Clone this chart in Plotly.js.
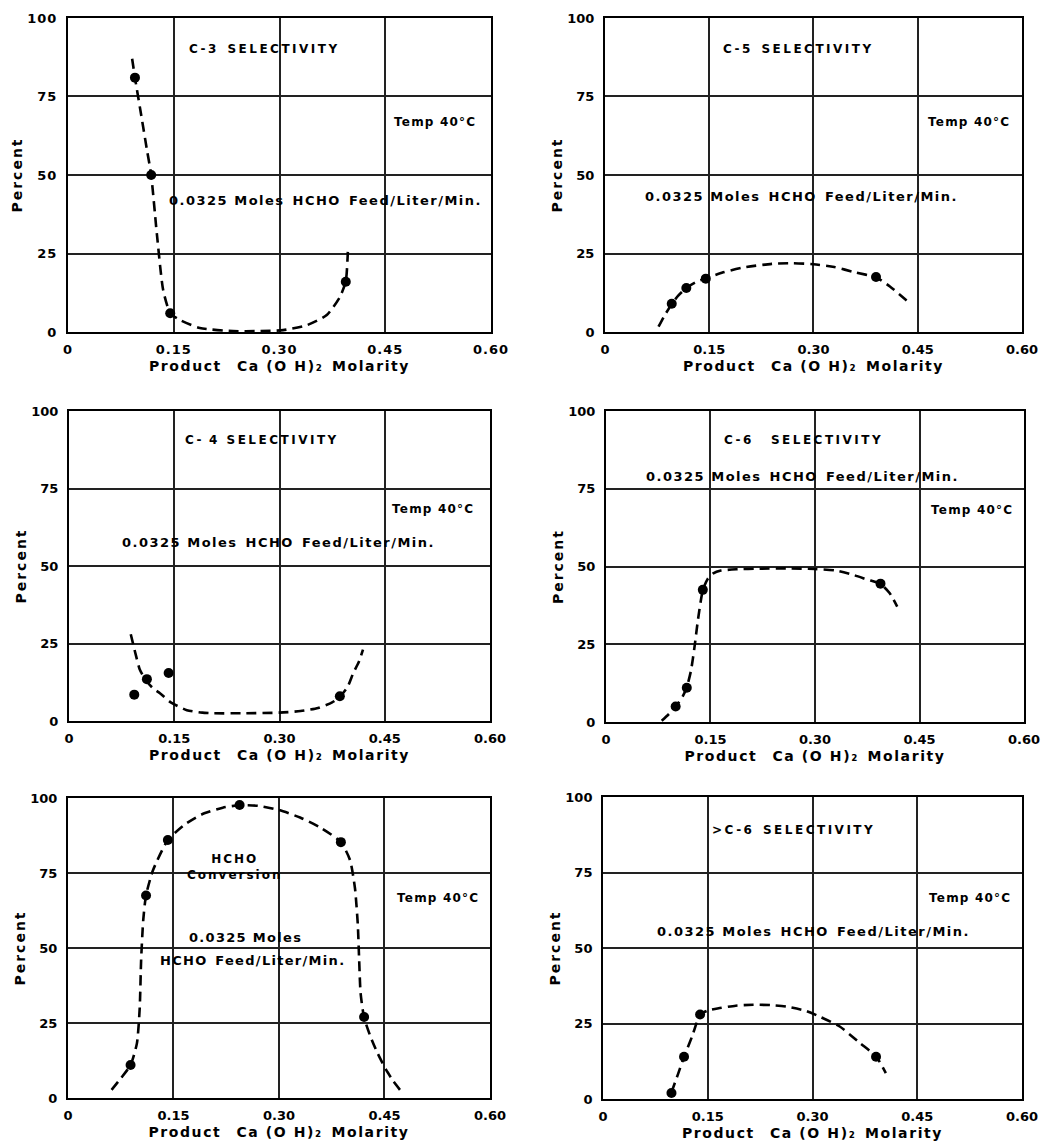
<!DOCTYPE html>
<html>
<head>
<meta charset="utf-8">
<script src="https://cdn.plot.ly/plotly-3.0.1.min.js"></script>
<style>
html,body{margin:0;padding:0;background:#fff;}
#chart{width:1041px;height:1143px;}
.xtick text,.ytick text{letter-spacing:1px;}
</style>
</head>
<body>
<div id="chart"></div>
<script>
// ---- tick labels ----
const xTickVals = [0, 0.15, 0.30, 0.45, 0.60];
const xTickText = ['0', '0.15', '0.30', '0.45', '0.60'];
const yTickVals = [0, 25, 50, 75, 100];
const yTickText = ['0', '25', '50', '75', '100'];

// ---- titles / labels ----
const xTitle = 'Product\u2002 Ca (O H)\u2082\u2002Molarity';
const yTitle = 'Percent';
const panelTitles = ['C-3\u2002SELECTIVITY', 'C-5\u2002SELECTIVITY', 'C-\u20094 SELECTIVITY', 'C-6\u2002\u2002SELECTIVITY', 'HCHO<br>Conversion', '>C-6\u2002SELECTIVITY'];
const feedText = '0.0325 Moles\u2002HCHO\u2002Feed/Liter/Min.';
const feedLine1 = '0.0325 Moles';
const feedLine2 = 'HCHO\u2002Feed/Liter/Min.';
const tempText = 'Temp 40°C';

// ---- C-3 selectivity ----
const c3PtX = [0.095, 0.118, 0.145, 0.394];
const c3PtY = [81, 50, 6, 16];
const c3CurveX = [0.091, 0.095, 0.105, 0.112, 0.118, 0.126, 0.135, 0.145, 0.159, 0.187, 0.234, 0.270, 0.305, 0.339, 0.367, 0.386, 0.394, 0.397];
const c3CurveY = [87, 81, 67.5, 58, 50, 31.4, 13.4, 6, 3.8, 1.3, 0.3, 0.3, 0.6, 2.2, 5.4, 11.3, 16.2, 26];

// ---- C-5 selectivity ----
const c5PtX = [0.096, 0.117, 0.145, 0.390];
const c5PtY = [9, 14, 17, 17.5];
const c5CurveX = [0.077, 0.085, 0.096, 0.105, 0.117, 0.130, 0.145, 0.170, 0.200, 0.240, 0.270, 0.300, 0.330, 0.360, 0.390, 0.410, 0.438];
const c5CurveY = [1.7, 5, 8.9, 11.5, 14, 15.8, 17.1, 19, 20.6, 21.7, 21.9, 21.6, 20.7, 19, 17.4, 14.5, 9.3];

// ---- C-4 selectivity ----
const c4PtX = [0.093, 0.111, 0.142, 0.386];
const c4PtY = [8.5, 13.5, 15.5, 8];
const c4CurveX = [0.088, 0.095, 0.101, 0.110, 0.120, 0.130, 0.145, 0.168, 0.190, 0.206, 0.250, 0.300, 0.330, 0.355, 0.375, 0.386, 0.397, 0.405, 0.413, 0.419];
const c4CurveY = [28, 21.5, 16.5, 13, 10.5, 8.9, 6, 3.5, 2.7, 2.5, 2.5, 2.7, 3.2, 4.2, 6, 7.8, 11, 15.4, 19, 23];

// ---- C-6 selectivity ----
const c6PtX = [0.100, 0.116, 0.139, 0.394];
const c6PtY = [5, 11, 42.5, 44.5];
const c6CurveX = [0.080, 0.090, 0.100, 0.110, 0.116, 0.122, 0.127, 0.132, 0.139, 0.146, 0.154, 0.165, 0.187, 0.220, 0.260, 0.300, 0.331, 0.355, 0.375, 0.394, 0.407, 0.418];
const c6CurveY = [0.4, 2.5, 4.9, 8.2, 11.2, 16.5, 24, 32.8, 42.4, 46, 47.8, 48.7, 49.1, 49.3, 49.4, 49.2, 48.7, 47.3, 45.8, 44.4, 41.5, 37.1];

// ---- HCHO conversion ----
const convPtX = [0.089, 0.111, 0.142, 0.244, 0.388, 0.421];
const convPtY = [11, 67.5, 86, 97.7, 85.3, 27];
const convCurveX = [0.062, 0.075, 0.089, 0.098, 0.102, 0.104, 0.107, 0.111, 0.121, 0.142, 0.165, 0.190, 0.220, 0.244, 0.270, 0.300, 0.330, 0.360, 0.388, 0.401, 0.408, 0.412, 0.414, 0.416, 0.421, 0.430, 0.440, 0.452, 0.462, 0.472];
const convCurveY = [2.7, 6.5, 11, 18.2, 30, 46, 59.3, 67.6, 76, 86, 91, 94.5, 96.8, 97.6, 97.4, 96, 93.5, 90, 85.3, 79.3, 70, 58, 46, 35, 26.8, 20.5, 15, 9.5, 5.8, 2.7];

// ---- >C-6 selectivity ----
const gtC6PtX = [0.098, 0.116, 0.139, 0.391];
const gtC6PtY = [2, 14, 28, 14];
const gtC6CurveX = [0.098, 0.107, 0.116, 0.128, 0.139, 0.150, 0.167, 0.190, 0.215, 0.240, 0.263, 0.290, 0.310, 0.339, 0.368, 0.391, 0.405];
const gtC6CurveY = [2.2, 8, 13.9, 21, 27.9, 29.3, 30.1, 30.9, 31.2, 31.1, 30.6, 29.2, 27.3, 24, 18.5, 14.1, 8.6];

const FONT = 'DejaVu Sans, Verdana, sans-serif';

const panels = [
  {cx: c3CurveX, cy: c3CurveY, px: c3PtX, py: c3PtY, xd: [0.0653, 0.4717], yd: [0.7095, 0.9843]},
  {cx: c5CurveX, cy: c5CurveY, px: c5PtX, py: c5PtY, xd: [0.5812, 0.9817], yd: [0.7095, 0.9843]},
  {cx: c4CurveX, cy: c4CurveY, px: c4PtX, py: c4PtY, xd: [0.0663, 0.4707], yd: [0.3692, 0.6404]},
  {cx: c6CurveX, cy: c6CurveY, px: c6PtX, py: c6PtY, xd: [0.5821, 0.9837], yd: [0.3683, 0.6404]},
  {cx: convCurveX, cy: convCurveY, px: convPtX, py: convPtY, xd: [0.0653, 0.4707], yd: [0.0394, 0.3018]},
  {cx: gtC6CurveX, cy: gtC6CurveY, px: gtC6PtX, py: gtC6PtY, xd: [0.5793, 0.9817], yd: [0.0385, 0.3027]}
];

const traces = [];
const layout = {
  width: 1041, height: 1143,
  margin: {l: 0, r: 0, t: 0, b: 0},
  paper_bgcolor: '#ffffff', plot_bgcolor: '#ffffff',
  showlegend: false,
  font: {family: FONT, color: '#000', size: 13, weight: 700},
  annotations: []
};

panels.forEach((p, i) => {
  const n = i === 0 ? '' : String(i + 1);
  const xa = 'x' + n, ya = 'y' + n;
  traces.push({
    x: p.cx, y: p.cy, xaxis: xa, yaxis: ya, type: 'scatter', mode: 'lines',
    line: {color: '#000', width: 2.6, dash: '10px,6px', shape: 'spline', smoothing: 0.6},
    hoverinfo: 'skip'
  });
  traces.push({
    x: p.px, y: p.py, xaxis: xa, yaxis: ya, type: 'scatter', mode: 'markers',
    marker: {color: '#000', size: 10}, cliponaxis: false, hoverinfo: 'skip'
  });
  const axCommon = {
    showline: true, mirror: true, linecolor: '#000', linewidth: 2,
    showgrid: true, gridcolor: '#222', gridwidth: 2, zeroline: false,
    ticks: '', tickfont: {family: FONT, size: 13, color: '#000', weight: 700},
    ticklabeloverflow: 'allow',
    fixedrange: true
  };
  layout['xaxis' + n] = Object.assign({}, axCommon, {
    domain: p.xd, range: [0, 0.6], anchor: ya,
    tickmode: 'array', tickvals: xTickVals, ticktext: xTickText,
    ticklabelstandoff: 4,
    title: {text: '<span style="letter-spacing:1.6px">' + xTitle + '</span>', font: {family: FONT, size: 14, color: '#000', weight: 700}, standoff: 6}
  });
  layout['yaxis' + n] = Object.assign({}, axCommon, {
    domain: p.yd, range: [0, 100], anchor: xa,
    tickmode: 'array', tickvals: yTickVals, ticktext: yTickText,
    ticklabelstandoff: 6,
    title: {text: '<span style="letter-spacing:2px">' + yTitle + '</span>', font: {family: FONT, size: 14, color: '#000', weight: 700}, standoff: 1}
  });
});

function ann(axN, x, y, text, spacing, anchor, size) {
  const n = axN === 1 ? '' : String(axN);
  layout.annotations.push({
    xref: 'x' + n, yref: 'y' + n, x: x, y: y, showarrow: false,
    xanchor: anchor || 'left', yanchor: 'middle', align: 'center',
    text: '<span style="letter-spacing:' + spacing + 'px">' + text + '</span>',
    font: {family: FONT, size: size || 12, color: '#000', weight: 700}
  });
}

// Panel 1
ann(1, 0.169, 90, panelTitles[0], 2.5);
ann(1, 0.459, 67, tempText, 1.2);
ann(1, 0.140, 42, feedText, 1.5, 'left', 13);
// Panel 2
ann(2, 0.167, 90, panelTitles[1], 2.5);
ann(2, 0.462, 67, tempText, 1.2);
ann(2, 0.054, 43.3, feedText, 1.5, 'left', 13);
// Panel 3
ann(3, 0.162, 90.6, panelTitles[2], 2.5);
ann(3, 0.457, 68.4, tempText, 1.2);
ann(3, 0.073, 57.6, feedText, 1.5, 'left', 13);
// Panel 4
ann(4, 0.167, 90.7, panelTitles[3], 2.5);
ann(4, 0.055, 79.1, feedText, 1.5, 'left', 13);
ann(4, 0.463, 68.2, tempText, 1.2);
// Panel 5
ann(5, 0.237, 77, panelTitles[4], 2, 'center');
ann(5, 0.465, 66.8, tempText, 1.2);
ann(5, 0.252, 53.6, feedLine1, 1.3, 'center', 13);
ann(5, 0.263, 46, feedLine2, 1.3, 'center', 13);
// Panel 6
ann(6, 0.153, 89, panelTitles[5], 2.5);
ann(6, 0.464, 66.6, tempText, 1.2);
ann(6, 0.074, 55.4, feedText, 1.5, 'left', 13);

Plotly.newPlot('chart', traces, layout, {displayModeBar: false, responsive: false});
</script>
</body>
</html>
